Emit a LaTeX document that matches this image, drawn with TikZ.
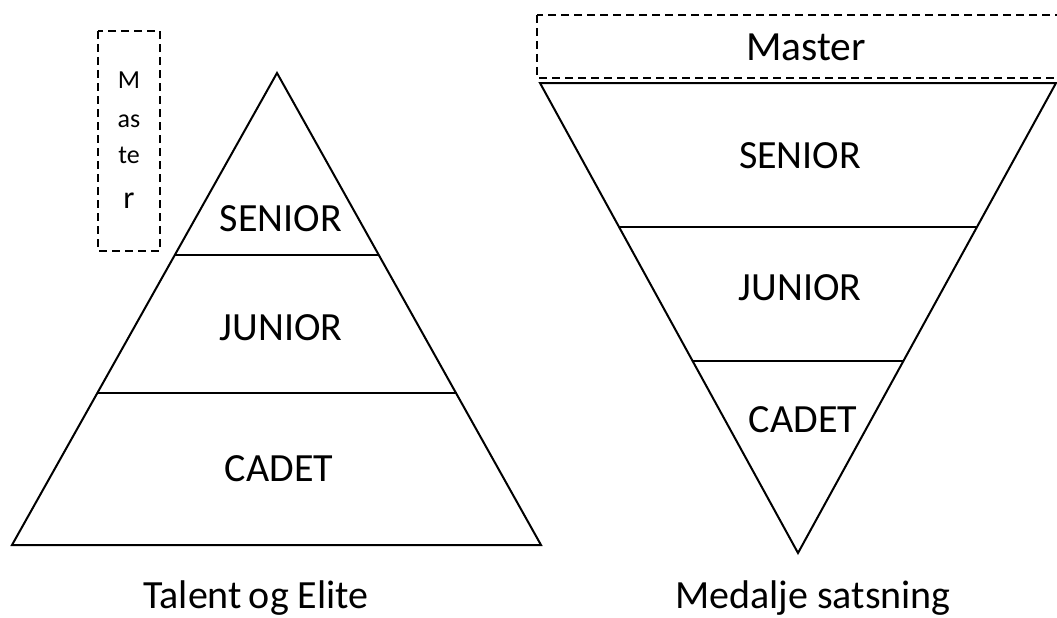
\documentclass[tikz,border=0pt]{standalone}
\usepackage{fontspec}
\setmainfont{Carlito}
\begin{document}
\begin{tikzpicture}[x=1pt,y=-1pt,
  tri/.style={draw=black,line width=2pt,line join=miter},
  div/.style={draw=black,line width=1.1pt},
  dbox/.style={draw=black,line width=1.8pt,dash pattern=on 8pt off 5pt},
  lbl/.style={font=\fontsize{40}{46}\selectfont,inner sep=0pt},
  captxt/.style={font=\fontsize{40}{46}\selectfont,inner sep=0pt},
  sm/.style={font=\fontsize{26}{30}\selectfont,inner sep=0pt}]
\useasboundingbox (0,0) rectangle (1057,618);
\begin{scope}
\clip (0,0) rectangle (1057,618);
% left pyramid
\coordinate (LA) at (277,73);
\coordinate (LB) at (12,545);
\coordinate (LC) at (541,545);
\draw[tri] (LA) -- (LB) -- (LC) -- cycle;
\draw[div] (175,255) -- (379,255);
\draw[div] (97,393) -- (457,393);
\node[lbl] (ls) at (281,219) {SENIOR};
\node[lbl] (lj) at (281,328) {JUNIOR};
\node[lbl] (lc) at (279,469) {CADET};
% left master box
\draw[dbox] (98,31) rectangle (160,251);
\node[sm] (m1) at (129,80) {M};
\node[sm] (m2) at (129,121) {as};
\node[sm] (m3) at (129,155) {te};
\node[font=\fontsize{32}{36}\selectfont,inner sep=0pt] (m4) at (129,201) {r};
% right inverted pyramid
\coordinate (RA) at (540,83);
\coordinate (RB) at (1056,83);
\coordinate (RC) at (798,553);
\draw[tri] (RA) -- (RB) -- (RC) -- cycle;
\draw[div] (619,227) -- (977,227);
\draw[div] (693,361) -- (903,361);
\node[lbl] (rs) at (800,156) {SENIOR};
\node[lbl] (rj) at (800,288) {JUNIOR};
\node[lbl] (rc) at (803,420) {CADET};
% right master box
\draw[dbox] (537,15) rectangle (1062,78);
\node[font=\fontsize{41.5}{46}\selectfont,inner sep=0pt] (rm) at (806,47) {Master};
% captions
\node[captxt] (t1) at (256,598) {Talent\hspace{7pt}og\hspace{9pt}Elite};
\node[captxt] (t2) at (813,598) {Medalje satsning};
\end{scope}
\end{tikzpicture}
\end{document}
